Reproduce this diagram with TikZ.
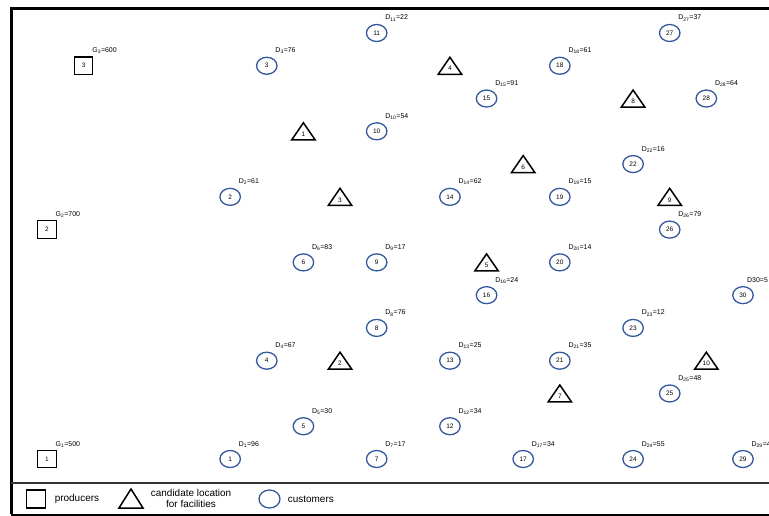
\documentclass[tikz,border=0pt]{standalone}
\usepackage{fontspec}
\setmainfont{Liberation Sans}
\usetikzlibrary{positioning,shapes.geometric}
\definecolor{custblue}{RGB}{52,88,156}
\tikzset{
  prod/.style={draw,line width=1.2bp,minimum width=18.5bp,minimum height=17.5bp,inner sep=0pt,font=\fontsize{6.5}{7}\selectfont},
  cust/.style={draw=custblue,ellipse,line width=1.3bp,minimum width=20.5bp,minimum height=17bp,inner sep=0pt,font=\fontsize{6.5}{7}\selectfont},
  tri/.style={line width=1.5bp,line join=miter},
  num/.style={inner sep=0pt,font=\fontsize{6.5}{7}\selectfont},
  dlab/.style={anchor=base west,inner sep=0pt,font=\fontsize{7}{8}\selectfont},
  leg/.style={inner sep=0pt,align=center,font=\fontsize{10}{11}\selectfont}
}
\begin{document}
\begin{tikzpicture}[x=1bp,y=-1bp]
\useasboundingbox (0,0) rectangle (769,516);
% frame
\draw[line width=3bp] (11,514) -- (11,9) -- (790,9);
\draw[line width=2bp] (11,514.5) -- (790,514.5);
\draw[line width=1.2bp,black!80] (11,483) -- (790,483);
% producers
\foreach \c/\r/\n/\g in {0/13/1/500, 0/6/2/700, 1/1/3/600} {
  \node[prod] (p\n) at ({47+36.63*\c},{33+32.77*\r}) {\n};
  \node[dlab] (gp\n) at ([shift={(8.5,-13)}]p\n.center) {G\textsubscript{\n}=\g};
}
% customers
\foreach \c/\r/\n/\d in {5/13/1/96, 5/5/2/61, 6/1/3/76, 6/10/4/67, 7/12/5/30, 7/7/6/83,
    9/13/7/17, 9/9/8/76, 9/7/9/17, 9/3/10/54, 9/0/11/22, 11/12/12/34, 11/10/13/25,
    11/5/14/62, 12/2/15/91, 12/8/16/24, 13/13/17/34, 14/1/18/61, 14/5/19/15,
    14/7/20/14, 14/10/21/35, 16/4/22/16, 16/9/23/12, 16/13/24/55, 17/11/25/48,
    17/6/26/79, 17/0/27/37, 18/2/28/64, 19/13/29/4} {
  \node[cust] (c\n) at ({47+36.63*\c},{33+32.77*\r}) {\n};
  \node[dlab] (dc\n) at ([shift={(8.5,-13)}]c\n.center) {D\textsubscript{\n}=\d};
}
\node[cust] (c30) at ({47+36.63*19},{33+32.77*8}) {30};
\node[dlab] (dc30) at ([shift={(4,-13)}]c30.center) {D30=5};
% candidate locations
\foreach \c/\r/\n in {7/3/1, 8/10/2, 8/5/3, 11/1/4, 12/7/5, 13/4/6, 14/11/7, 16/2/8, 17/5/9, 18/10/10} {
  \coordinate (f\n) at ({47+36.63*\c},{33+32.77*\r});
  \draw[tri] ([shift={(-11.7,8.5)}]f\n) -- ([shift={(11.7,8.5)}]f\n) -- ([shift={(0,-8.5)}]f\n) -- cycle;
  \node[num] (nf\n) at ([shift={(0,3)}]f\n) {\n};
}
% legend
\node[prod,minimum width=19bp,minimum height=18bp] (lp) at (36,499) {};
\node[leg,right=8.5bp of lp] (lpt) {producers};
\coordinate (lf) at (131,498.5);
\draw[tri] ([shift={(-12,9.5)}]lf) -- ([shift={(12,9.5)}]lf) -- ([shift={(0,-9.5)}]lf) -- cycle;
\node[leg,right=19.7bp of lf] (lft) {candidate location\\for facilities};
\node[cust,minimum width=21bp,minimum height=18bp] (lc) at (269.5,499) {};
\node[leg,right=7bp of lc] (lct) {customers};
\end{tikzpicture}
\end{document}
